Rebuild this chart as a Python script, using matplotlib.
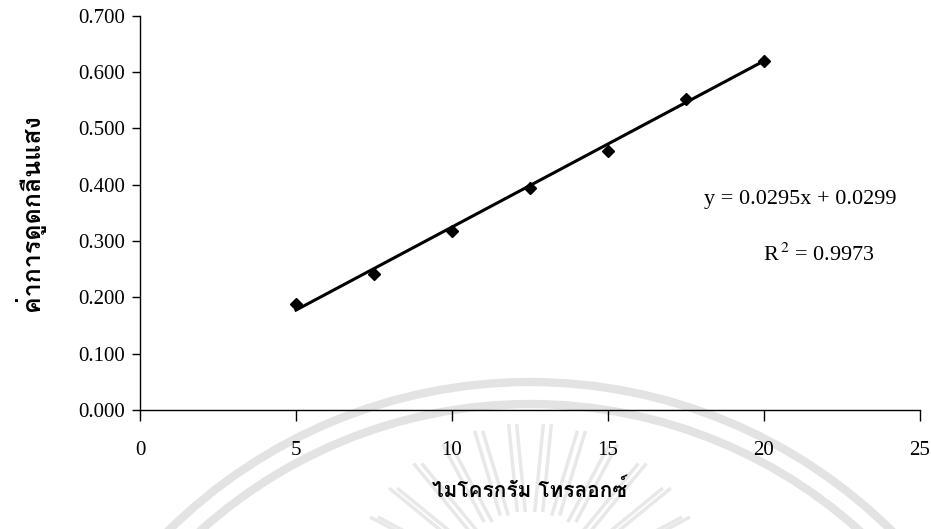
import matplotlib
matplotlib.use("Agg")
import matplotlib.pyplot as plt
import numpy as np
from matplotlib import font_manager
from matplotlib.ft2font import FT2Font
from matplotlib.patches import Arc

# trolox standard curve
conc = [5, 7.5, 10, 12.5, 15, 17.5, 20]
absorb = [0.188, 0.242, 0.318, 0.394, 0.460, 0.552, 0.620]
slope = 0.0295
intercept = 0.0299
r2 = 0.9973
x_ticks = [0, 5, 10, 15, 20, 25]
y_ticks = [0.0, 0.1, 0.2, 0.3, 0.4, 0.5, 0.6, 0.7]
x_label = "ไมโครกรัม โทรลอกซ์"
y_label = "ค่าการดูดกลืนแสง"


def thai_font():
    # first installed font that has Thai glyphs
    for f in font_manager.fontManager.ttflist:
        try:
            if ord("ก") in FT2Font(f.fname).get_charmap():
                return f.name
        except Exception:
            pass
    return "DejaVu Sans"


thai = thai_font()
serif = "Liberation Serif"
plt.rcParams["mathtext.fontset"] = "stix"

fig = plt.figure(figsize=(9.31, 5.29), dpi=100)

# faint watermark behind the chart
bg = fig.add_axes([0, 0, 1, 1], zorder=0)
bg.set_xlim(0, 931)
bg.set_ylim(529, 0)
bg.axis("off")
for r in (514, 492):
    bg.add_patch(Arc((530, 896), 2 * r, 2 * r, theta1=180, theta2=360,
                     color="#e3e3e3", lw=6))
for ang in np.linspace(-62, 62, 12):
    a = np.radians(ang)
    for off in (-4, 4):
        x0 = 530 + off + 90 * np.sin(a)
        y0 = 600 - 90 * np.cos(a)
        x1 = 530 + off + 175 * np.sin(a)
        y1 = 600 - 175 * np.cos(a)
        bg.plot([x0, x1], [y0, y1], color="#e8e8e8", lw=2.5)

ax = fig.add_axes([0.1504, 0.225, 0.8376, 0.745], zorder=1)
ax.patch.set_alpha(0)

xs = np.array([conc[0], conc[-1]])
ax.plot(xs, slope * xs + intercept, color="black", lw=2.2)
ax.plot(conc, absorb, linestyle="none", marker="D", ms=6.5, color="black")

ax.set_xlim(0, 25)
ax.set_ylim(0, 0.7)
ax.set_xticks(x_ticks)
ax.set_yticks(y_ticks)
ax.set_yticklabels([f"{v:.3f}" for v in y_ticks])
for s in ("top", "right"):
    ax.spines[s].set_visible(False)
for s in ("left", "bottom"):
    ax.spines[s].set_linewidth(1.0)
ax.tick_params(axis="x", direction="out", length=8, width=1, pad=14,
               labelsize=15)
ax.tick_params(axis="y", direction="out", length=6, width=1, pad=5,
               labelsize=15)
for lab in ax.get_xticklabels() + ax.get_yticklabels():
    lab.set_fontfamily(serif)

ax.set_xlabel(x_label, fontfamily=thai, fontsize=15, fontweight="bold",
              labelpad=14)
ax.set_ylabel(y_label, fontfamily=thai, fontsize=18, fontweight="bold",
              labelpad=24)

ax.text(0.847, 0.535, f"y = {slope}x + {intercept}", transform=ax.transAxes,
        ha="center", va="center", fontfamily=serif, fontsize=16)
ax.text(0.87, 0.395, rf"R$^{{\,2}}$ = {r2}", transform=ax.transAxes,
        ha="center", va="center", fontfamily=serif, fontsize=16)

fig.savefig("out.png", dpi=100)
